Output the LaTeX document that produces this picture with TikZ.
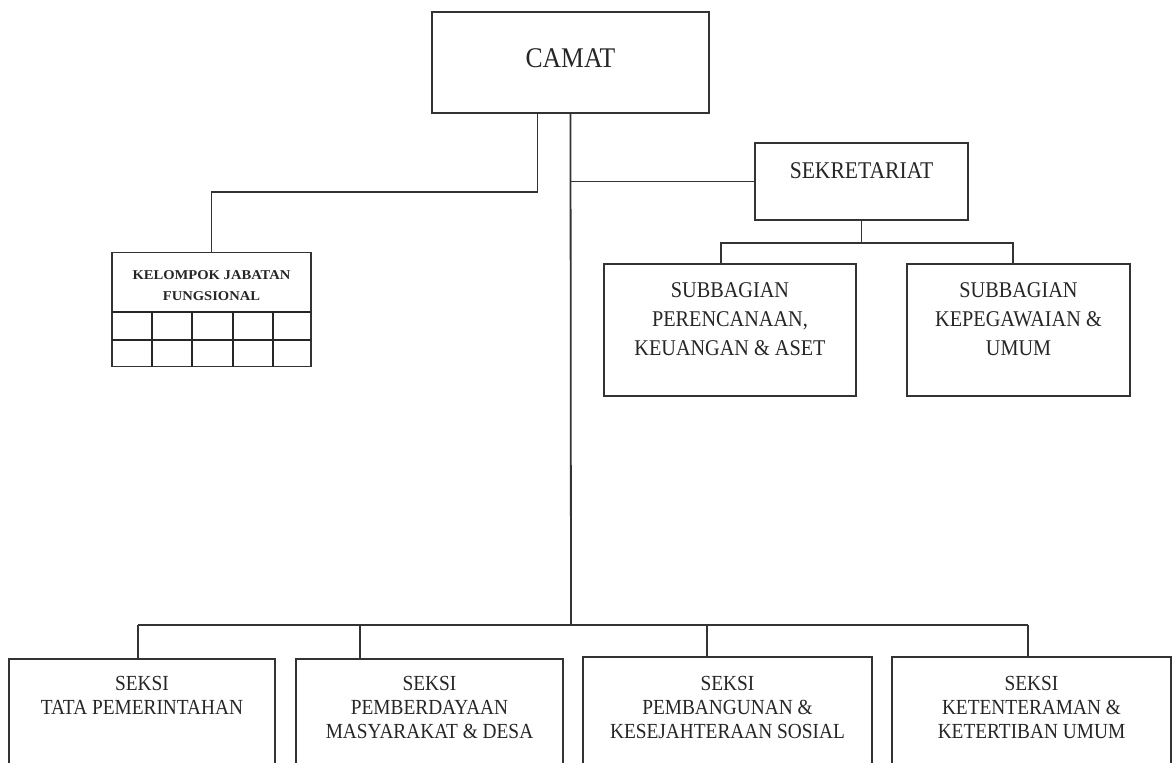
\documentclass[tikz,border=0pt]{standalone}
\usepackage{fontspec}
\setmainfont{Liberation Serif}
\newfontfamily\orgfont{Liberation Serif}[FakeStretch=0.9]
\newfontfamily\kjfont{Liberation Serif}[FakeStretch=1.08]
\begin{document}
\begin{tikzpicture}[x=1pt,y=-1pt,
  box/.style={draw=black!80, line width=1.8pt, inner sep=0pt, outer sep=0pt, fill=white},
  link/.style={draw=black!80, line width=1.8pt},
  cell/.style={draw=black!85, line width=1.8pt},
  lbl/.style={inner sep=0pt, align=center, text=black!85},
]
\useasboundingbox (0,0) rectangle (1173,763);
\begin{scope}
\clip (0,0) rectangle (1173,763);

% connectors
\coordinate (bus) at (571,625);
\coordinate (b1) at (138,625);
\coordinate (b2) at (360,625);
\coordinate (b3) at (707,625);
\coordinate (b4) at (1028,625);
\coordinate (t1) at (721,243);
\coordinate (t2) at (1013,243);

% boxes
\node[box, minimum width=277pt, minimum height=101pt] (camat) at (570.5,62.5) {};
\node[box, minimum width=213pt, minimum height=77pt] (sek) at (861.5,181.5) {};
\node[box, minimum width=252pt, minimum height=132pt] (sb1) at (730,330) {};
\node[box, minimum width=223pt, minimum height=132pt] (sb2) at (1018.5,330) {};
\node[box, minimum width=199pt, minimum height=114pt] (kj) at (211.5,309.5) {};
\node[box, minimum width=266pt, minimum height=161pt] (s1) at (142,739.5) {};
\node[box, minimum width=267pt, minimum height=161pt] (s2) at (429.5,739.5) {};
\node[box, minimum width=289pt, minimum height=163pt] (s3) at (727.5,738.5) {};
\node[box, minimum width=279pt, minimum height=163pt] (s4) at (1031.5,738.5) {};

% camat to its units
\draw[link] ([xshift=-33pt]camat.south) -- ++(0,79) -| (kj.north);
\draw[link] (camat.south) -- (bus);
\draw[link] (camat.south |- sek.west) -- (sek.west);
\draw[link] (b1) -- (b4);
\draw[link] (b1) -- (b1 |- s1.north);
\draw[link] (b2) -- (b2 |- s2.north);
\draw[link] (b3) -- (b3 |- s3.north);
\draw[link] (b4) -- (b4 |- s4.north);

% secretariat to its subdivisions
\draw[link] (sek.south) -- (sek.south |- t1);
\draw[link] (t1 |- sb1.north) -- (t1) -- (t2) -- (t2 |- sb2.north);

% grid of the functional group
\draw[cell] (kj.west |- 0,312) -- (kj.east |- 0,312);
\draw[cell] (kj.west |- 0,340) -- (kj.east |- 0,340);
\foreach \cx in {152,192,233,273}
  \draw[cell] (\cx,312) -- (kj.south -| \cx,0);

% labels
\node[lbl, anchor=base, font={\orgfont\fontsize{28.5}{34}\selectfont}] (camat-t) at (570.5,67) {CAMAT};
\node[lbl, anchor=base, font={\orgfont\fontsize{24}{29}\selectfont}] (sek-t) at (861.5,178) {SEKRETARIAT};
\node[lbl, anchor=north, font={\orgfont\fontsize{22.5}{29}\selectfont}] (sb1-t) at (730,282)
  {SUBBAGIAN\\PERENCANAAN,\\KEUANGAN \& ASET};
\node[lbl, anchor=north, font={\orgfont\fontsize{22.5}{29}\selectfont}] (sb2-t) at (1018.5,282)
  {SUBBAGIAN\\KEPEGAWAIAN \&\\UMUM};
\node[lbl, anchor=north, font={\kjfont\bfseries\fontsize{13.5}{21}\selectfont}] (kj-t) at (211.5,270)
  {KELOMPOK JABATAN\\FUNGSIONAL};
\node[lbl, anchor=north, font={\orgfont\fontsize{21.5}{24}\selectfont}] (s1-t) at (142,676)
  {SEKSI\\TATA PEMERINTAHAN};
\node[lbl, anchor=north, font={\orgfont\fontsize{21.5}{24}\selectfont}] (s2-t) at (429.5,676)
  {SEKSI\\PEMBERDAYAAN\\MASYARAKAT \& DESA};
\node[lbl, anchor=north, font={\orgfont\fontsize{21.5}{24}\selectfont}] (s3-t) at (727.5,676)
  {SEKSI\\PEMBANGUNAN \&\\KESEJAHTERAAN SOSIAL};
\node[lbl, anchor=north, font={\orgfont\fontsize{21.5}{24}\selectfont}] (s4-t) at (1031.5,676)
  {SEKSI\\KETENTERAMAN \&\\KETERTIBAN UMUM};
\end{scope}
\end{tikzpicture}
\end{document}
